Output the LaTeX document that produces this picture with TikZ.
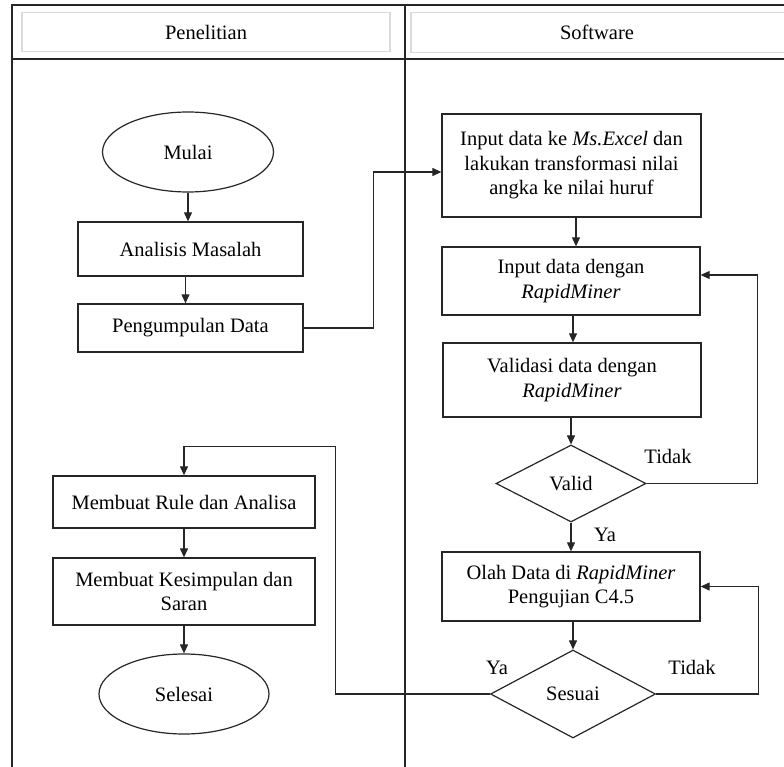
\documentclass[tikz,border=0pt]{standalone}
\usepackage{fontspec}
\setmainfont{Liberation Serif}
\usetikzlibrary{shapes.geometric,arrows.meta}
\begin{document}
\begin{tikzpicture}[x=1pt,y=-1pt,
  every node/.style={font=\fontsize{20.5}{24.5}\selectfont, text=black},
  frame/.style={line width=1.8pt, draw=black!85},
  hdrbox/.style={draw=black!14, line width=1.4pt},
  procbox/.style={draw=black!85, line width=1.3pt, rectangle, align=center, inner sep=0pt},
  term/.style={draw=black!85, line width=1.2pt, ellipse, inner sep=0pt},
  decis/.style={draw=black!85, line width=1.2pt, diamond, inner sep=0pt},
  arr/.style={draw=black!85, line width=1.1pt, -{Triangle[length=9pt,width=8pt]}},
  lbl/.style={inner sep=0pt}]
\useasboundingbox (0,0) rectangle (784,767);
% frame
\coordinate (fTL) at (12,5);
\coordinate (fTR) at (784,5);
\coordinate (fBL) at (12,767);
\coordinate (dT) at (405,5);
\coordinate (dB) at (405,767);
\coordinate (hL) at (12,59);
\coordinate (hR) at (784,59);
\draw[frame] (fTR) -- (fTL) -- (fBL);
\draw[frame] (dT) -- (dB);
\draw[frame] (hL) -- (hR);
% header boxes
\draw[hdrbox] (790,12.5) -- (411,12.5) -- (411,52.5) -- (790,52.5);
\node[hdrbox, minimum width=368pt, minimum height=39pt, inner sep=0pt] (hP) at (206,32) {};
\node (tP) at (206,32) {Penelitian};
\node (tS) at (597,32) {Software};
% left column
\node[term, minimum width=171pt, minimum height=80pt] (Mulai) at (188,152) {Mulai};
\node[procbox, minimum width=225pt, minimum height=54pt] (Anal) at (190.5,249) {Analisis Masalah};
\node[procbox, minimum width=225pt, minimum height=48pt] (Peng) at (190.5,328) {Pengumpulan Data};
\node[procbox, minimum width=262pt, minimum height=52pt] (Rule) at (184,502) {Membuat Rule dan Analisa};
\node[procbox, minimum width=262pt, minimum height=67pt] (Kes) at (184,591.5) {Membuat Kesimpulan dan\\Saran};
\node[term, minimum width=170pt, minimum height=80pt] (Sel) at (184,694) {Selesai};
% right column
\node[procbox, minimum width=259pt, minimum height=103pt] (InX) at (571.5,165.5) {Input data ke \textit{Ms.Excel} dan\\lakukan transformasi nilai\\angka ke nilai huruf};
\node[procbox, minimum width=258pt, minimum height=68pt] (InRM) at (571,281) {Input data dengan\\\textit{RapidMiner}};
\node[procbox, minimum width=258pt, minimum height=74pt] (Val) at (572,380) {Validasi data dengan\\\textit{RapidMiner}};
\node[decis, minimum width=150pt, minimum height=77pt] (Valid) at (571,483.5) {Valid};
\node[procbox, minimum width=258pt, minimum height=69pt] (Olah) at (571,586.5) {Olah Data di \textit{RapidMiner}\\Pengujian C4.5};
\node[decis, minimum width=165pt, minimum height=88pt] (Ses) at (573,694) {Sesuai};
% labels
\node[lbl] (lT1) at (668,456) {Tidak};
\node[lbl] (lY1) at (605,535) {Ya};
\node[lbl] (lY2) at (497,668) {Ya};
\node[lbl] (lT2) at (692,667) {Tidak};
% connectors
\draw[arr] (Mulai.south) -- (Mulai.south |- Anal.north);
\draw[arr] ([xshift=-5pt]Anal.south) -- ([xshift=-5pt]Anal.south |- Peng.north);
\draw[arr] (Peng.east) -- ++(70,0) |- ([yshift=-6.5pt]InX.west);
\draw[arr] ([xshift=4.5pt]InX.south) -- ([xshift=4.5pt]InX.south |- InRM.north);
\draw[arr] ([xshift=2pt]InRM.south) -- ([xshift=2pt]InRM.south |- Val.north);
\draw[arr] ([xshift=-1pt]Val.south) -- (Valid.north);
\draw[arr] (Valid.south) -- (Valid.south |- Olah.north);
\draw[arr] (Valid.east) -- ++(111,0) |- ([yshift=6pt]InRM.east);
\draw[arr] ([xshift=2pt]Olah.south) -- (Ses.north);
\draw[arr] (Ses.east) -- ++(102,0) |- (Olah.east);
\draw[arr] (Ses.west) -- ++(-154,0) |- ([yshift=29pt]Rule.north) -- (Rule.north);
\draw[arr] (Rule.south) -- (Rule.south |- Kes.north);
\draw[arr] (Kes.south) -- (Kes.south |- Sel.north);
\end{tikzpicture}
\end{document}
